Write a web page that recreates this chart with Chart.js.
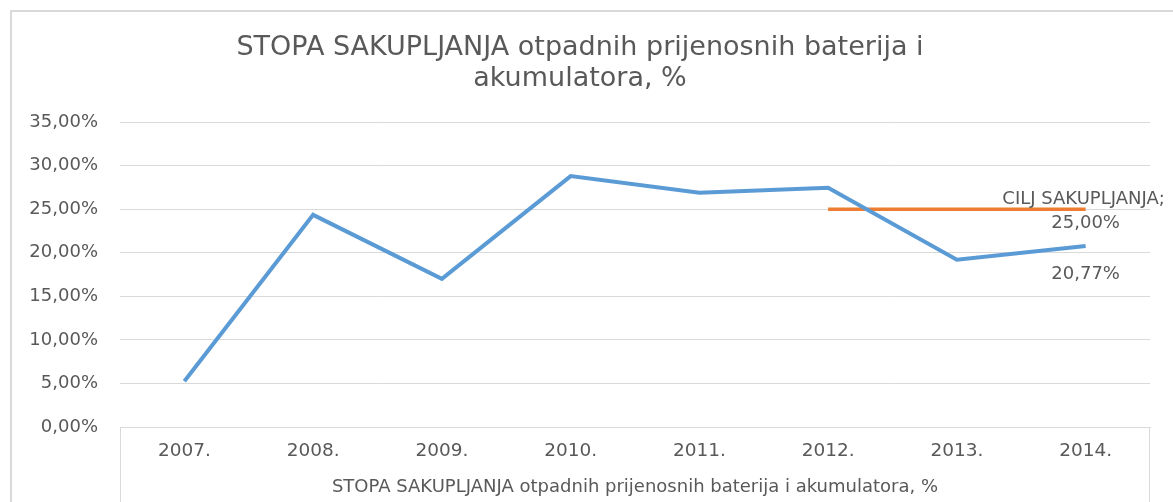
<!DOCTYPE html>
<html>
<head>
<meta charset="utf-8">
<script src="https://cdn.jsdelivr.net/npm/chart.js@4"></script>
<style>
html,body{margin:0;padding:0;background:#fff;}
#wrap{width:1173px;height:502px;position:relative;}
</style>
</head>
<body>
<div id="wrap"><canvas id="c" width="1173" height="502"></canvas></div>
<script>
const categories = ['2007.', '2008.', '2009.', '2010.', '2011.', '2012.', '2013.', '2014.'];
const rateValues = [5.25, 24.35, 17.0, 28.8, 26.9, 27.45, 19.2, 20.77];
const targetValues = [null, null, null, null, null, 25.0, 25.0, 25.0];
const yTicks = [0, 5, 10, 15, 20, 25, 30, 35];
const titleLines = ['STOPA SAKUPLJANJA otpadnih prijenosnih baterija i', 'akumulatora, %'];
const seriesName = 'STOPA SAKUPLJANJA otpadnih prijenosnih baterija i akumulatora, %';
const targetName = 'CILJ SAKUPLJANJA';

const fmt = v => v.toFixed(2).replace('.', ',') + '%';
const TEXT = '#595959';
const FONT = 'DejaVu Sans';

const framePlugin = {
  id: 'frame',
  beforeDraw(chart) {
    const ctx = chart.ctx;
    ctx.save();
    ctx.fillStyle = '#fff';
    ctx.fillRect(0, 0, chart.width, chart.height);
    ctx.strokeStyle = '#d9d9d9';
    ctx.lineWidth = 2;
    ctx.strokeRect(11, 11, chart.width + 20, chart.height + 20);
    ctx.restore();
  },
  afterDraw(chart) {
    const ctx = chart.ctx;
    const a = chart.chartArea;
    ctx.save();
    ctx.strokeStyle = '#d9d9d9';
    ctx.lineWidth = 1;
    ctx.beginPath();
    ctx.moveTo(Math.round(a.left) + 0.5, a.bottom);
    ctx.lineTo(Math.round(a.left) + 0.5, chart.height);
    ctx.moveTo(Math.round(a.right) - 0.5, a.bottom);
    ctx.lineTo(Math.round(a.right) - 0.5, chart.height);
    ctx.stroke();
    // data labels
    ctx.fillStyle = TEXT;
    ctx.font = '18px "' + FONT + '"';
    ctx.textBaseline = 'middle';
    ctx.textAlign = 'center';
    const xs = chart.scales.x, ys = chart.scales.y;
    const last = categories.length - 1;
    const tx = xs.getPixelForValue(last);
    const ty = ys.getPixelForValue(targetValues[last]);
    ctx.fillText(targetName + ';', tx - 2, ty - 10);
    ctx.fillText(fmt(targetValues[last]), tx, ty + 14);
    const ry = ys.getPixelForValue(rateValues[last]);
    ctx.fillText(fmt(rateValues[last]), tx, ry + 28);
    ctx.restore();
  }
};

new Chart(document.getElementById('c'), {
  type: 'line',
  data: {
    labels: categories,
    datasets: [
      {
        label: seriesName,
        data: rateValues,
        borderColor: '#5B9BD5',
        backgroundColor: '#5B9BD5',
        borderWidth: 4,
        pointRadius: 0,
        tension: 0
      },
      {
        label: targetName,
        data: targetValues,
        borderColor: '#ED7D31',
        backgroundColor: '#ED7D31',
        borderWidth: 3.5,
        pointRadius: 0,
        tension: 0,
        spanGaps: false
      }
    ]
  },
  options: {
    responsive: false,
    animation: false,
    devicePixelRatio: 1,
    layout: { padding: { left: 10, right: 23, top: 10, bottom: 0 } },
    plugins: {
      legend: { display: false },
      tooltip: { enabled: false },
      title: {
        display: true,
        text: titleLines,
        color: TEXT,
        font: { family: FONT, size: 27, weight: 'normal', lineHeight: 1.15 },
        padding: { top: 22, bottom: 28 }
      }
    },
    scales: {
      x: {
        offset: true,
        grid: { display: false, drawTicks: false },
        border: { display: true, color: '#d9d9d9', width: 1 },
        ticks: { color: TEXT, font: { family: FONT, size: 18.5 }, padding: 13, maxRotation: 0 },
        title: {
          display: true,
          text: seriesName,
          color: TEXT,
          font: { family: FONT, size: 18 },
          padding: { top: 5, bottom: 4 }
        },
        afterFit(s) { s.height = 75; }
      },
      y: {
        min: 0,
        max: 35,
        afterBuildTicks(s) { s.ticks = yTicks.map(v => ({ value: v })); },
        grid: { color: '#d9d9d9', lineWidth: 1, drawTicks: false },
        border: { display: false },
        ticks: { color: TEXT, font: { family: FONT, size: 18 }, padding: 22, callback: v => fmt(v) },
        afterFit(s) { s.width = 110; }
      }
    }
  },
  plugins: [framePlugin]
});
</script>
</body>
</html>
